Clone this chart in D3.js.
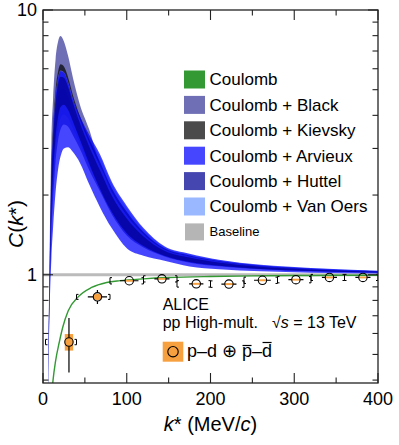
<!DOCTYPE html>
<html>
<head>
<meta charset="utf-8">
<script src="https://cdn.jsdelivr.net/npm/d3@7"></script>
<style>
  body { margin: 0; background: #fff; }
  svg { display: block; }
  text { font-family: "Liberation Sans", Arial, Helvetica, sans-serif; fill: #000; }
</style>
</head>
<body>
<div id="chart"></div>
<script>
// ---- data ----
const bandK = [6, 8, 10, 12, 15, 18, 21, 25, 30, 36, 44, 55, 68, 82, 100, 120, 145, 175, 210, 260, 320, 400];

const blackLo = [0.373, 0.841, 1.448, 1.930, 2.658, 3.211, 3.543, 3.698, 3.622, 3.350, 2.993, 2.491, 2.066, 1.694, 1.407, 1.268, 1.173, 1.111, 1.076, 1.048, 1.030, 1.017];
const blackHi = [0.420, 1.250, 3.200, 4.600, 6.500, 7.600, 7.970, 7.600, 6.700, 5.500, 4.400, 3.550, 2.599, 2.075, 1.691, 1.430, 1.249, 1.174, 1.121, 1.078, 1.051, 1.030];

const kievskyLo = [0.402, 1.079, 2.386, 3.336, 4.670, 5.524, 5.903, 5.820, 5.336, 4.577, 3.857, 3.164, 2.576, 2.058, 1.679, 1.423, 1.245, 1.171, 1.119, 1.077, 1.051, 1.029];
const kievskyHi = [0.405, 1.109, 2.518, 3.539, 4.962, 5.859, 6.240, 6.113, 5.565, 4.735, 3.976, 3.272, 2.673, 2.126, 1.729, 1.450, 1.258, 1.182, 1.127, 1.081, 1.054, 1.031];

const arvieuxLo = [0.360, 0.750, 1.150, 1.500, 2.050, 2.500, 2.800, 3.000, 3.030, 2.900, 2.650, 2.200, 1.800, 1.500, 1.260, 1.180, 1.130, 1.075, 1.050, 1.030, 1.018, 1.010];
const arvieuxHi = [0.402, 1.078, 2.378, 3.325, 4.652, 5.506, 5.886, 5.803, 5.322, 4.569, 3.976, 3.383, 2.850, 2.250, 1.820, 1.500, 1.280, 1.200, 1.140, 1.090, 1.060, 1.035];

const huttelLo = [0.384, 0.925, 1.750, 2.375, 3.291, 3.944, 4.300, 4.391, 4.195, 3.771, 3.246, 2.639, 2.114, 1.729, 1.433, 1.283, 1.180, 1.117, 1.081, 1.051, 1.033, 1.019];
const huttelHi = [0.399, 1.052, 2.264, 3.150, 4.401, 5.219, 5.596, 5.550, 5.124, 4.430, 3.741, 3.060, 2.483, 1.993, 1.630, 1.396, 1.233, 1.161, 1.112, 1.072, 1.047, 1.027];

const vanOersLo = [0.378, 0.882, 1.591, 2.140, 2.955, 3.556, 3.901, 4.029, 3.897, 3.552, 3.133, 2.589, 2.114, 1.729, 1.433, 1.283, 1.180, 1.117, 1.081, 1.051, 1.033, 1.019];
const vanOersHi = [0.392, 0.995, 2.025, 2.788, 3.880, 4.623, 4.993, 5.015, 4.699, 4.131, 3.780, 3.256, 2.785, 2.205, 1.787, 1.482, 1.272, 1.193, 1.135, 1.087, 1.058, 1.034];

const coulK = [11.5, 12, 15, 19.5, 23.5, 30, 42, 58, 76, 92, 120, 150, 200, 250, 300, 350, 400];
const coulC = [0.385, 0.400, 0.472, 0.557, 0.632, 0.730, 0.825, 0.895, 0.935, 0.950, 0.965, 0.976, 0.985, 0.990, 0.993, 0.995, 0.996];

const dataK   = [31, 65, 103, 142, 183, 222, 262, 302, 342, 382];
const dataC   = [0.557, 0.825, 0.949, 0.965, 0.924, 0.922, 0.953, 0.958, 0.977, 0.977];
const statErr = [0.130, 0.050, 0.006, 0.005, 0.005, 0.005, 0.005, 0.005, 0.005, 0.005];
const kErr    = [5, 11.5, 11, 9, 8.5, 9, 10, 9, 9, 9];
const sysErr  = [0.040, 0.022, 0.008, 0.008, 0.008, 0.008, 0.008, 0.008, 0.008, 0.008];
const binLo   = [3, 40, 80, 120, 160, 200, 240, 280, 320, 360];
const binHi   = [40, 80, 120, 160, 200, 240, 280, 320, 360, 400];
const bracketErr = [0.013, 0.018, 0.026, 0.026, 0.026, 0.026, 0.026, 0.026, 0.026, 0.026];

const legendNames  = ["Coulomb", "Coulomb + Black", "Coulomb + Kievsky", "Coulomb + Arvieux", "Coulomb + Huttel", "Coulomb + Van Oers", "Baseline"];
const legendColors = ["#339933", "#6f6fb5", "#4b4b4b", "#4646ff", "#4646b0", "#99b8ff", "#b5b5b5"];

const xMajor = [0, 100, 200, 300, 400];
const xMinor = [50, 150, 250, 350];

const orange = "#f7a040";

// ---- setup ----
const width = 399, height = 445;
const svg = d3.select("#chart").append("svg")
    .attr("width", width)
    .attr("height", height);

const x = d3.scaleLinear().domain([0, 400]).range([43, 378]);
const y = d3.scaleLog().domain([0.39, 10]).range([383, 10]);

svg.append("clipPath").attr("id", "plot")
  .append("rect")
    .attr("x", 43).attr("y", 10)
    .attr("width", 335).attr("height", 373);

const plot = svg.append("g").attr("clip-path", "url(#plot)");

// baseline band
plot.append("path")
    .datum([0, 400])
    .attr("d", d3.area().x(d => x(d)).y0(y(0.987)).y1(y(1.013)))
    .attr("fill", "#bbbbbb");

// theory bands, drawn semi-transparent so overlaps darken
const bands = [
  { lo: vanOersLo, hi: vanOersHi, color: "#729dff" },
  { lo: blackLo,   hi: blackHi,   color: "#383899" },
  { lo: kievskyLo, hi: kievskyHi, color: "#050505" },
  { lo: arvieuxLo, hi: arvieuxHi, color: "#0000ff" },
  { lo: huttelLo,  hi: huttelHi,  color: "#000092" }
];

const area = d3.area()
    .curve(d3.curveMonotoneX)
    .x(d => x(d.k))
    .y0(d => y(d.lo))
    .y1(d => y(d.hi));

bands.forEach(b => {
  plot.append("path")
      .datum(bandK.map((k, i) => ({ k: k, lo: b.lo[i], hi: b.hi[i] })))
      .attr("d", area)
      .attr("fill", b.color)
      .attr("fill-opacity", 0.725);
});

// Coulomb curve
plot.append("path")
    .datum(coulK.map((k, i) => ({ k: k, c: coulC[i] })))
    .attr("d", d3.line().curve(d3.curveMonotoneX).x(d => x(d.k)).y(d => y(d.c)))
    .attr("fill", "none")
    .attr("stroke", "#339933")
    .attr("stroke-width", 1.4);

// data points
const pts = dataK.map((k, i) => ({
  k: k, c: dataC[i], e: statErr[i], ek: kErr[i], s: sysErr[i],
  lo: binLo[i], hi: binHi[i], b: bracketErr[i]
}));
const r = 4.2;
const dg = plot.append("g");

dg.selectAll("rect.sys").data(pts).join("rect")
    .attr("class", "sys")
    .attr("x", d => x(d.k - 5))
    .attr("width", d => x(d.k + 5) - x(d.k - 5))
    .attr("y", d => y(d.c + d.s))
    .attr("height", d => y(d.c - d.s) - y(d.c + d.s))
    .attr("fill", orange);

const barPath = d => {
  const cx = x(d.k), cy = y(d.c);
  let p = "";
  const yt = y(d.c + d.e), yb = y(d.c - d.e);
  if (yt < cy - r) p += `M${cx},${yt}V${cy - r}`;
  if (yb > cy + r) p += `M${cx},${cy + r}V${yb}`;
  const xl = x(d.k - d.ek), xr = x(d.k + d.ek);
  if (xl < cx - r) p += `M${xl},${cy}H${cx - r}`;
  if (xr > cx + r) p += `M${cx + r},${cy}H${xr}`;
  return p;
};
dg.selectAll("path.stat").data(pts).join("path")
    .attr("class", "stat")
    .attr("d", barPath)
    .attr("stroke", "#000")
    .attr("stroke-width", 1.2)
    .attr("fill", "none");

const t = 2;
dg.selectAll("path.brk").data(pts).join("path")
    .attr("class", "brk")
    .attr("d", d => {
      const yt = y(d.c + d.b), yb = y(d.c - d.b);
      const xl = x(d.lo), xr = x(d.hi);
      return `M${xl + t},${yt}H${xl}V${yb}H${xl + t}` +
             `M${xr - t},${yt}H${xr}V${yb}H${xr - t}`;
    })
    .attr("stroke", "#000")
    .attr("stroke-width", 1)
    .attr("fill", "none");

dg.selectAll("circle").data(pts).join("circle")
    .attr("cx", d => x(d.k))
    .attr("cy", d => y(d.c))
    .attr("r", r)
    .attr("fill", "none")
    .attr("stroke", "#000")
    .attr("stroke-width", 1.1);

// ---- frame and ticks ----
const axisG = svg.append("g").attr("stroke", "#222").attr("stroke-width", 1.1);
const yTicks = y.ticks();
yTicks.forEach(v => {
  const major = Math.abs(Math.log10(v) - Math.round(Math.log10(v))) < 1e-9;
  const len = major ? 10 : 5.5;
  axisG.append("line").attr("x1", 43).attr("x2", 43 + len).attr("y1", y(v)).attr("y2", y(v));
  axisG.append("line").attr("x1", 378).attr("x2", 378 - len).attr("y1", y(v)).attr("y2", y(v));
});
xMajor.concat(xMinor).forEach(v => {
  const len = xMajor.includes(v) ? 10 : 5.5;
  axisG.append("line").attr("x1", x(v)).attr("x2", x(v)).attr("y1", 383).attr("y2", 383 - len);
  axisG.append("line").attr("x1", x(v)).attr("x2", x(v)).attr("y1", 10).attr("y2", 10 + len);
});
svg.append("rect")
    .attr("x", 43).attr("y", 10).attr("width", 335).attr("height", 373)
    .attr("fill", "none").attr("stroke", "#222").attr("stroke-width", 1.3);

// tick labels
svg.append("g").selectAll("text").data(xMajor).join("text")
    .attr("x", d => x(d)).attr("y", 405)
    .attr("text-anchor", "middle")
    .attr("font-size", 18)
    .text(d => d);

svg.append("g").selectAll("text").data([1, 10]).join("text")
    .attr("x", 37).attr("y", d => y(d))
    .attr("dy", "0.35em")
    .attr("text-anchor", "end")
    .attr("font-size", 18)
    .text(d => d);

// axis titles
const xt = svg.append("text")
    .attr("x", 210.5).attr("y", 431)
    .attr("text-anchor", "middle")
    .attr("font-size", 20);
xt.append("tspan").attr("font-style", "italic").text("k");
xt.append("tspan").text("* (MeV/");
xt.append("tspan").attr("font-style", "italic").text("c");
xt.append("tspan").text(")");

const yt = svg.append("text")
    .attr("transform", "translate(23,224) rotate(-90)")
    .attr("text-anchor", "middle")
    .attr("font-size", 21);
yt.append("tspan").attr("font-style", "italic").text("C");
yt.append("tspan").text("(");
yt.append("tspan").attr("font-style", "italic").text("k");
yt.append("tspan").text("*)");

// ---- legend ----
const leg = svg.append("g");
legendNames.forEach((name, i) => {
  const cy = 79.5 + i * 25.4;
  const last = i === legendNames.length - 1;
  leg.append("rect")
      .attr("x", last ? 185 : 184).attr("y", cy - (last ? 8.5 : 9))
      .attr("width", last ? 19 : 21).attr("height", last ? 17 : 18)
      .attr("fill", legendColors[i]);
  leg.append("text")
      .attr("x", 209.5).attr("y", cy)
      .attr("dy", "0.35em")
      .attr("font-size", last ? 13 : 17)
      .text(name);
});

// ---- ALICE text block ----
svg.append("text").attr("x", 162.7).attr("y", 310).attr("font-size", 16).text("ALICE");
const pp = svg.append("text").attr("x", 162.7).attr("y", 328).attr("font-size", 16);
pp.append("tspan").text("pp High-mult.");
pp.append("tspan").attr("x", 272).text("\u221A");
pp.append("tspan").attr("font-style", "italic").text("s");
pp.append("tspan").text(" = 13 TeV");

svg.append("rect")
    .attr("x", 162.7).attr("y", 341.7).attr("width", 20.6).attr("height", 20)
    .attr("fill", orange);
svg.append("circle")
    .attr("cx", 173).attr("cy", 351.7).attr("r", 5.2)
    .attr("fill", "none").attr("stroke", "#000").attr("stroke-width", 1.1);

const pd = svg.append("text")
    .attr("x", 187).attr("y", 357)
    .attr("font-size", 18)
    .text("p\u2013d \u2295 p\u2013d");
const pdNode = pd.node();
[[6, 11.5], [8, 14.5]].forEach(([idx, up]) => {
  const s = pdNode.getStartPositionOfChar(idx).x;
  const e = pdNode.getEndPositionOfChar(idx).x;
  svg.append("line")
      .attr("x1", s + 0.5).attr("x2", e - 0.5)
      .attr("y1", 357 - up).attr("y2", 357 - up)
      .attr("stroke", "#000").attr("stroke-width", 1.2);
});
</script>
</body>
</html>
